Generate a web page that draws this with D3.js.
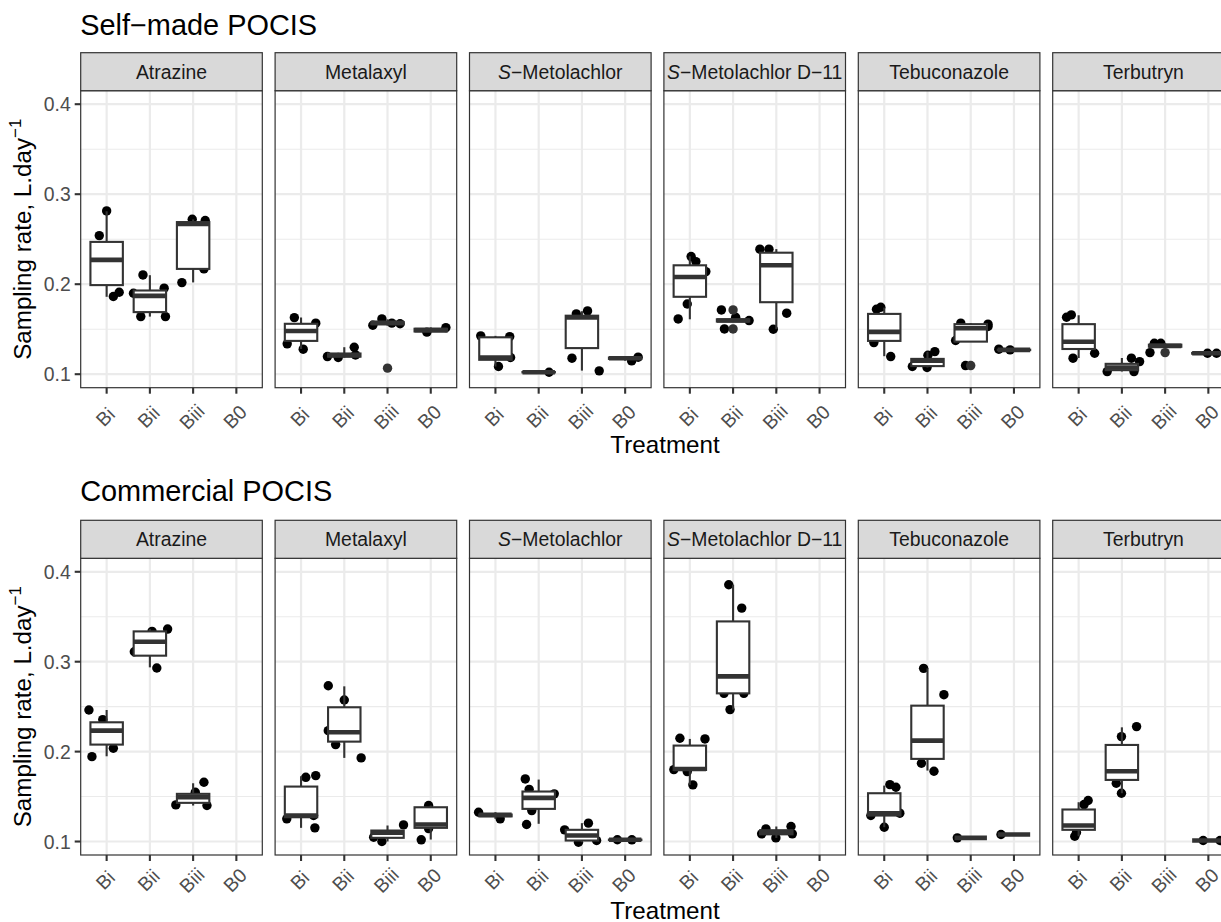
<!DOCTYPE html>
<html><head><meta charset="utf-8">
<script src="https://cdn.jsdelivr.net/npm/d3@7"></script>
<style>body{margin:0;background:#fff}svg{display:block}text{font-family:"Liberation Sans",Arial,Helvetica,sans-serif}</style>
</head><body><svg id="chart" width="1221" height="922"></svg>
<script>
// ---------- data ----------
const compounds = ["Atrazine","Metalaxyl","S-Metolachlor","S-Metolachlor D-11","Tebuconazole","Terbutryn"];
const treatments = ["Bi","Bii","Biii","B0"];
const yTicks = [0.1,0.2,0.3,0.4];
const plotTitles = ["Self\u2212made POCIS","Commercial POCIS"];

// box stats: [compound, treatment, lower whisker, q1, median, q3, upper whisker]
const selfMadeBoxes = [
  [0,"Bi",0.186,0.199,0.227,0.247,0.281],
  [0,"Bii",0.164,0.169,0.187,0.193,0.210],
  [0,"Biii",0.202,0.217,0.267,0.269,0.272],
  [1,"Bi",0.128,0.137,0.148,0.156,0.163],
  [1,"Bii",0.1185,0.1195,0.121,0.123,0.130],
  [1,"Biii",0.154,0.1555,0.157,0.158,0.161],
  [1,"B0",0.147,0.1475,0.149,0.1505,0.152],
  [2,"Bi",0.1085,0.116,0.1185,0.141,0.1426],
  [2,"Bii",0.102,0.102,0.1022,0.1024,0.1025],
  [2,"Biii",0.104,0.129,0.163,0.165,0.170],
  [2,"B0",0.115,0.117,0.1178,0.1185,0.119],
  [3,"Bi",0.161,0.186,0.208,0.221,0.231],
  [3,"Bii",0.158,0.1585,0.1596,0.161,0.1615],
  [3,"Biii",0.150,0.180,0.221,0.235,0.239],
  [4,"Bi",0.120,0.137,0.147,0.167,0.174],
  [4,"Bii",0.1074,0.109,0.115,0.117,0.125],
  [4,"Biii",0.1362,0.1362,0.151,0.1556,0.1567],
  [4,"B0",0.1268,0.1268,0.127,0.1272,0.1278],
  [5,"Bi",0.118,0.128,0.136,0.1556,0.1655],
  [5,"Bii",0.103,0.1045,0.1075,0.1115,0.118],
  [5,"Biii",0.130,0.1305,0.1315,0.1328,0.1344],
  [5,"B0",0.1225,0.1228,0.1233,0.1236,0.124]
];
// jittered observations: [compound, treatment, value, jitter (category units)]
const selfMadePoints = [
  [0,"Bi",0.2814,0],[0,"Bi",0.254,-0.17],[0,"Bi",0.1863,0.155],[0,"Bi",0.191,0.29],
  [0,"Bii",0.2103,-0.16],[0,"Bii",0.190,-0.38],[0,"Bii",0.1956,0.33],[0,"Bii",0.164,-0.21],[0,"Bii",0.164,0.36],
  [0,"Biii",0.2018,-0.26],[0,"Biii",0.217,0.25],[0,"Biii",0.2722,-0.02],[0,"Biii",0.2707,0.28],
  [1,"Bi",0.1629,-0.155],[1,"Bi",0.1567,0.34],[1,"Bi",0.1337,-0.32],[1,"Bi",0.1278,0.05],
  [1,"Bii",0.1196,-0.39],[1,"Bii",0.1185,-0.14],[1,"Bii",0.130,0.23],[1,"Bii",0.1214,0.26],
  [1,"Biii",0.1614,-0.13],[1,"Biii",0.1544,-0.34],[1,"Biii",0.1567,0.10],[1,"Biii",0.156,0.29],
  [1,"B0",0.1467,-0.09],[1,"B0",0.1518,0.35],
  [2,"Bi",0.1426,-0.34],[2,"Bi",0.1418,0.33],[2,"Bi",0.1185,0.35],[2,"Bi",0.1085,0.07],
  [2,"Bii",0.1022,0.24],
  [2,"Biii",0.167,-0.13],[2,"Biii",0.1703,0.13],[2,"Biii",0.1178,-0.23],[2,"Biii",0.1037,0.40],
  [2,"B0",0.1148,0.15],[2,"B0",0.1189,0.30],
  [3,"Bi",0.2307,0.03],[3,"Bi",0.2251,0.14],[3,"Bi",0.214,0.37],[3,"Bi",0.178,-0.06],[3,"Bi",0.1614,-0.27],
  [3,"Bii",0.1714,-0.27],[3,"Bii",0.1503,-0.20],[3,"Bii",0.1596,0.37],[3,"Bii",0.1633,0.06],
  [3,"Biii",0.2389,-0.38],[3,"Biii",0.2389,-0.17],[3,"Biii",0.1678,0.24],[3,"Biii",0.150,-0.07],
  [4,"Bi",0.1722,-0.18],[4,"Bi",0.1744,-0.08],[4,"Bi",0.1351,-0.24],[4,"Bi",0.1196,0.15],
  [4,"Bii",0.1085,-0.35],[4,"Bii",0.1074,-0.01],[4,"Bii",0.1251,0.17],[4,"Bii",0.121,0.01],
  [4,"Biii",0.1567,-0.23],[4,"Biii",0.1556,0.40],[4,"Biii",0.153,0.40],[4,"Biii",0.1374,-0.35],[4,"Biii",0.1096,-0.12],
  [4,"B0",0.1278,-0.35],[4,"B0",0.127,-0.09],
  [5,"Bi",0.1633,-0.28],[5,"Bi",0.1659,-0.17],[5,"Bi",0.1178,-0.13],[5,"Bi",0.1233,0.37],
  [5,"Bii",0.1029,-0.34],[5,"Bii",0.1029,0.28],[5,"Bii",0.1178,0.22],[5,"Bii",0.114,0.41],
  [5,"Biii",0.124,-0.35],[5,"Biii",0.1344,-0.25],[5,"Biii",0.1344,-0.10],
  [5,"B0",0.1233,-0.02],[5,"B0",0.1233,0.19]
];
// boxplot outliers: [compound, treatment, value]
const selfMadeOutliers = [
  [1,"Biii",0.1067],[3,"Bii",0.1714],[3,"Bii",0.1503],[4,"Biii",0.1096],[5,"Biii",0.124]
];

const commercialBoxes = [
  [0,"Bi",0.1948,0.2078,0.2233,0.2326,0.2463],
  [0,"Bii",0.2937,0.3067,0.3222,0.3337,0.3363],
  [0,"Biii",0.140,0.143,0.1493,0.153,0.1648],
  [1,"Bi",0.1152,0.127,0.1289,0.1611,0.1726],
  [1,"Bii",0.193,0.2111,0.2215,0.2493,0.2726],
  [1,"Biii",0.100,0.1041,0.1097,0.1122,0.1178],
  [1,"B0",0.1022,0.1152,0.1189,0.1381,0.140],
  [2,"Bi",0.1252,0.128,0.1296,0.130,0.1326],
  [2,"Bii",0.1197,0.1363,0.1485,0.1556,0.1689],
  [2,"Biii",0.0992,0.1011,0.1067,0.113,0.1204],
  [2,"B0",0.1015,0.1017,0.1019,0.1021,0.1023],
  [3,"Bi",0.163,0.1796,0.1807,0.2067,0.2141],
  [3,"Bii",0.2467,0.2648,0.2837,0.3448,0.3856],
  [3,"Biii",0.104,0.108,0.1105,0.1125,0.1167],
  [4,"Bi",0.1159,0.1289,0.1315,0.1537,0.1622],
  [4,"Bii",0.1789,0.1919,0.2122,0.2511,0.2926],
  [4,"Biii",0.1041,0.1041,0.1041,0.1041,0.1041],
  [4,"B0",0.1078,0.1078,0.1078,0.1078,0.1078],
  [5,"Bi",0.1059,0.113,0.1178,0.1356,0.1437],
  [5,"Bii",0.1537,0.1685,0.1781,0.2074,0.227],
  [5,"B0",0.1011,0.1011,0.1011,0.1011,0.1011]
];
const commercialPoints = [
  [0,"Bi",0.2463,-0.41],[0,"Bi",0.2356,-0.09],[0,"Bi",0.2037,0.155],[0,"Bi",0.1944,-0.34],
  [0,"Bii",0.3111,-0.36],[0,"Bii",0.3337,0.05],[0,"Bii",0.3363,0.41],[0,"Bii",0.293,0.16],
  [0,"Biii",0.1659,0.25],[0,"Biii",0.1407,-0.40],[0,"Biii",0.140,0.32],[0,"Biii",0.1548,0.05],
  [1,"Bi",0.1714,0.11],[1,"Bi",0.1733,0.34],[1,"Bi",0.1252,-0.33],[1,"Bi",0.1152,0.32],[1,"Bi",0.129,0.29],
  [1,"Bii",0.2733,-0.37],[1,"Bii",0.2574,0],[1,"Bii",0.2233,-0.37],[1,"Bii",0.2078,-0.2],[1,"Bii",0.193,0.39],
  [1,"Biii",0.100,-0.13],[1,"Biii",0.1185,0.37],[1,"Biii",0.1048,-0.32],
  [1,"B0",0.140,-0.05],[1,"B0",0.1019,-0.22],[1,"B0",0.1144,-0.05],
  [2,"Bi",0.1326,-0.39],[2,"Bi",0.1252,0.11],
  [2,"Bii",0.1696,-0.31],[2,"Bii",0.158,-0.22],[2,"Bii",0.153,0.36],[2,"Bii",0.1344,-0.16],[2,"Bii",0.1189,-0.28],
  [2,"Biii",0.113,-0.40],[2,"Biii",0.1204,0.15],[2,"Biii",0.0992,-0.08],[2,"Biii",0.1011,0.34],
  [2,"B0",0.102,-0.18],[2,"B0",0.1019,0.155],
  [3,"Bi",0.2148,-0.23],[3,"Bi",0.2141,0.35],[3,"Bi",0.18,-0.37],[3,"Bi",0.1778,-0.06],[3,"Bi",0.163,0.07],
  [3,"Bii",0.3856,-0.10],[3,"Bii",0.3596,0.20],[3,"Bii",0.2467,-0.07],[3,"Bii",0.2648,-0.21],[3,"Bii",0.2648,0.25],
  [3,"Biii",0.1141,-0.24],[3,"Biii",0.1167,0.34],[3,"Biii",0.1085,0.37],[3,"Biii",0.1085,-0.34],[3,"Biii",0.104,-0.01],
  [4,"Bi",0.1633,0.13],[4,"Bi",0.1604,0.27],[4,"Bi",0.1289,-0.31],[4,"Bi",0.1315,0.36],[4,"Bi",0.1159,0],
  [4,"Bii",0.2926,-0.09],[4,"Bii",0.2633,0.38],[4,"Bii",0.187,-0.14],[4,"Bii",0.1781,0.15],
  [4,"Biii",0.1041,-0.31],
  [4,"B0",0.1078,-0.30],
  [5,"Bi",0.1456,0.22],[5,"Bi",0.1411,0.125],[5,"Bi",0.1059,-0.09],[5,"Bi",0.110,-0.05],
  [5,"Bii",0.2278,0.34],[5,"Bii",0.2167,-0.01],[5,"Bii",0.1648,-0.13],[5,"Bii",0.1537,-0.01],
  [5,"B0",0.1011,-0.12],[5,"B0",0.1011,0.27]
];
const commercialOutliers = [];

// ---------- layout ----------
const svg = d3.select("#chart");
const panelX0 = 80.7, panelStep = 194.4, panelW = 181.6, stripH = 38;
const yDomain = [0.085, 0.415];
const FONT_SMALL = 19.4, FONT_AXIS = 24.2, FONT_TITLE = 28.9;
const R = 4.7;

const xBand = d3.scalePoint().domain(treatments).range([0, panelW]).padding(0.6);
const unit = xBand.step();

function drawPlot(cfg) {
  const g = svg.append("g");
  const y = d3.scaleLinear().domain(yDomain).range([cfg.panelBottom, cfg.stripBottom]);

  g.append("text").attr("x", panelX0 - 0.5).attr("y", cfg.titleY)
    .attr("font-size", FONT_TITLE).attr("fill", "#000").text(cfg.title);

  compounds.forEach((c, ci) => {
    const px = panelX0 + ci * panelStep;
    const p = g.append("g").attr("transform", `translate(${px},0)`);
    p.append("rect").attr("x", 0).attr("y", cfg.stripBottom).attr("width", panelW)
      .attr("height", cfg.panelBottom - cfg.stripBottom).attr("fill", "#fff");
    const minor = [0.15, 0.25, 0.35];
    p.selectAll(".minor").data(minor).join("line")
      .attr("x1", 0).attr("x2", panelW).attr("y1", d => y(d)).attr("y2", d => y(d))
      .attr("stroke", "#EBEBEB").attr("stroke-width", 1.1);
    p.selectAll(".majy").data(yTicks).join("line")
      .attr("x1", 0).attr("x2", panelW).attr("y1", d => y(d)).attr("y2", d => y(d))
      .attr("stroke", "#EBEBEB").attr("stroke-width", 2.2);
    p.selectAll(".majx").data(treatments).join("line")
      .attr("x1", d => xBand(d)).attr("x2", d => xBand(d))
      .attr("y1", cfg.stripBottom).attr("y2", cfg.panelBottom)
      .attr("stroke", "#EBEBEB").attr("stroke-width", 2.2);

    // jittered points (drawn under the boxes)
    const pts = cfg.points.filter(d => d[0] === ci);
    p.selectAll(".pt").data(pts).join("circle")
      .attr("cx", d => xBand(d[1]) + d[3] * unit).attr("cy", d => y(d[2]))
      .attr("r", R).attr("fill", "#000");

    // boxes
    const bw = 0.75 * unit;
    const boxes = cfg.boxes.filter(d => d[0] === ci);
    const bg = p.selectAll(".box").data(boxes).join("g");
    bg.append("line").attr("x1", d => xBand(d[1])).attr("x2", d => xBand(d[1]))
      .attr("y1", d => y(d[2])).attr("y2", d => y(d[3]))
      .attr("stroke", "#333333").attr("stroke-width", 2.1);
    bg.append("line").attr("x1", d => xBand(d[1])).attr("x2", d => xBand(d[1]))
      .attr("y1", d => y(d[5])).attr("y2", d => y(d[6]))
      .attr("stroke", "#333333").attr("stroke-width", 2.1);
    bg.append("rect").attr("x", d => xBand(d[1]) - bw / 2).attr("width", bw)
      .attr("y", d => y(d[5])).attr("height", d => Math.max(0, y(d[3]) - y(d[5])))
      .attr("fill", "#fff").attr("stroke", "#333333").attr("stroke-width", 2.1);
    bg.append("line").attr("x1", d => xBand(d[1]) - bw / 2).attr("x2", d => xBand(d[1]) + bw / 2)
      .attr("y1", d => y(d[4])).attr("y2", d => y(d[4]))
      .attr("stroke", "#333333").attr("stroke-width", 4.6);

    // outliers
    const outs = cfg.outliers.filter(d => d[0] === ci);
    p.selectAll(".out").data(outs).join("circle")
      .attr("cx", d => xBand(d[1])).attr("cy", d => y(d[2]))
      .attr("r", R).attr("fill", "#333333");

    // panel border
    p.append("rect").attr("x", 0).attr("y", cfg.stripBottom).attr("width", panelW)
      .attr("height", cfg.panelBottom - cfg.stripBottom)
      .attr("fill", "none").attr("stroke", "#333333").attr("stroke-width", 1.2);

    // strip
    p.append("rect").attr("x", 0).attr("y", cfg.stripBottom - stripH).attr("width", panelW)
      .attr("height", stripH).attr("fill", "#D9D9D9").attr("stroke", "#333333").attr("stroke-width", 1.2);
    const st = p.append("text").attr("x", panelW / 2).attr("y", cfg.stripBottom - stripH / 2)
      .attr("text-anchor", "middle").attr("dominant-baseline", "central")
      .attr("font-size", FONT_SMALL).attr("fill", "#1A1A1A");
    if (c.startsWith("S-")) {
      st.append("tspan").attr("font-style", "italic").text("S");
      st.append("tspan").text(c.slice(1).replace(/-/g, "\u2212"));
    } else st.text(c);

    // x axis ticks and labels (centred on the tick, rotated 45°)
    p.selectAll(".xt").data(treatments).join("line")
      .attr("x1", d => xBand(d)).attr("x2", d => xBand(d))
      .attr("y1", cfg.panelBottom).attr("y2", cfg.panelBottom + 6)
      .attr("stroke", "#333333").attr("stroke-width", 2.1);
    p.selectAll(".xl").data(treatments).join("text")
      .attr("transform", d => `translate(${xBand(d) + 3.5},${cfg.panelBottom + cfg.xLabDy}) rotate(-45)`)
      .attr("text-anchor", "middle").attr("font-size", FONT_SMALL).attr("fill", "#4D4D4D")
      .text(d => d);
  });

  // y axis on first panel
  const ya = g.append("g");
  ya.selectAll("line").data(yTicks).join("line")
    .attr("x1", panelX0 - 6).attr("x2", panelX0).attr("y1", d => y(d)).attr("y2", d => y(d))
    .attr("stroke", "#333333").attr("stroke-width", 2.1);
  ya.selectAll("text").data(yTicks).join("text")
    .attr("x", panelX0 - 10).attr("y", d => y(d)).attr("text-anchor", "end")
    .attr("dominant-baseline", "central").attr("font-size", FONT_SMALL).attr("fill", "#4D4D4D")
    .text(d => d3.format(".1f")(d));

  // y axis title
  const yt = g.append("text")
    .attr("transform", `translate(31,${(cfg.stripBottom + cfg.panelBottom) / 2}) rotate(-90)`)
    .attr("text-anchor", "middle").attr("font-size", FONT_AXIS).attr("fill", "#000");
  yt.append("tspan").text("Sampling rate, L.day");
  yt.append("tspan").attr("font-size", 17).attr("dy", -10).text("\u22121");

  // x axis title
  g.append("text").attr("x", 665).attr("y", cfg.xTitleY).attr("text-anchor", "middle")
    .attr("font-size", FONT_AXIS).attr("fill", "#000").text("Treatment");
}

drawPlot({title: plotTitles[0], titleY: 35, stripBottom: 90.7, panelBottom: 387.7, xTitleY: 452.5, xLabDy: 34,
  boxes: selfMadeBoxes, points: selfMadePoints, outliers: selfMadeOutliers});
drawPlot({title: plotTitles[1], titleY: 501, stripBottom: 558.3, panelBottom: 855, xTitleY: 918.5, xLabDy: 30,
  boxes: commercialBoxes, points: commercialPoints, outliers: commercialOutliers});
</script></body></html>
